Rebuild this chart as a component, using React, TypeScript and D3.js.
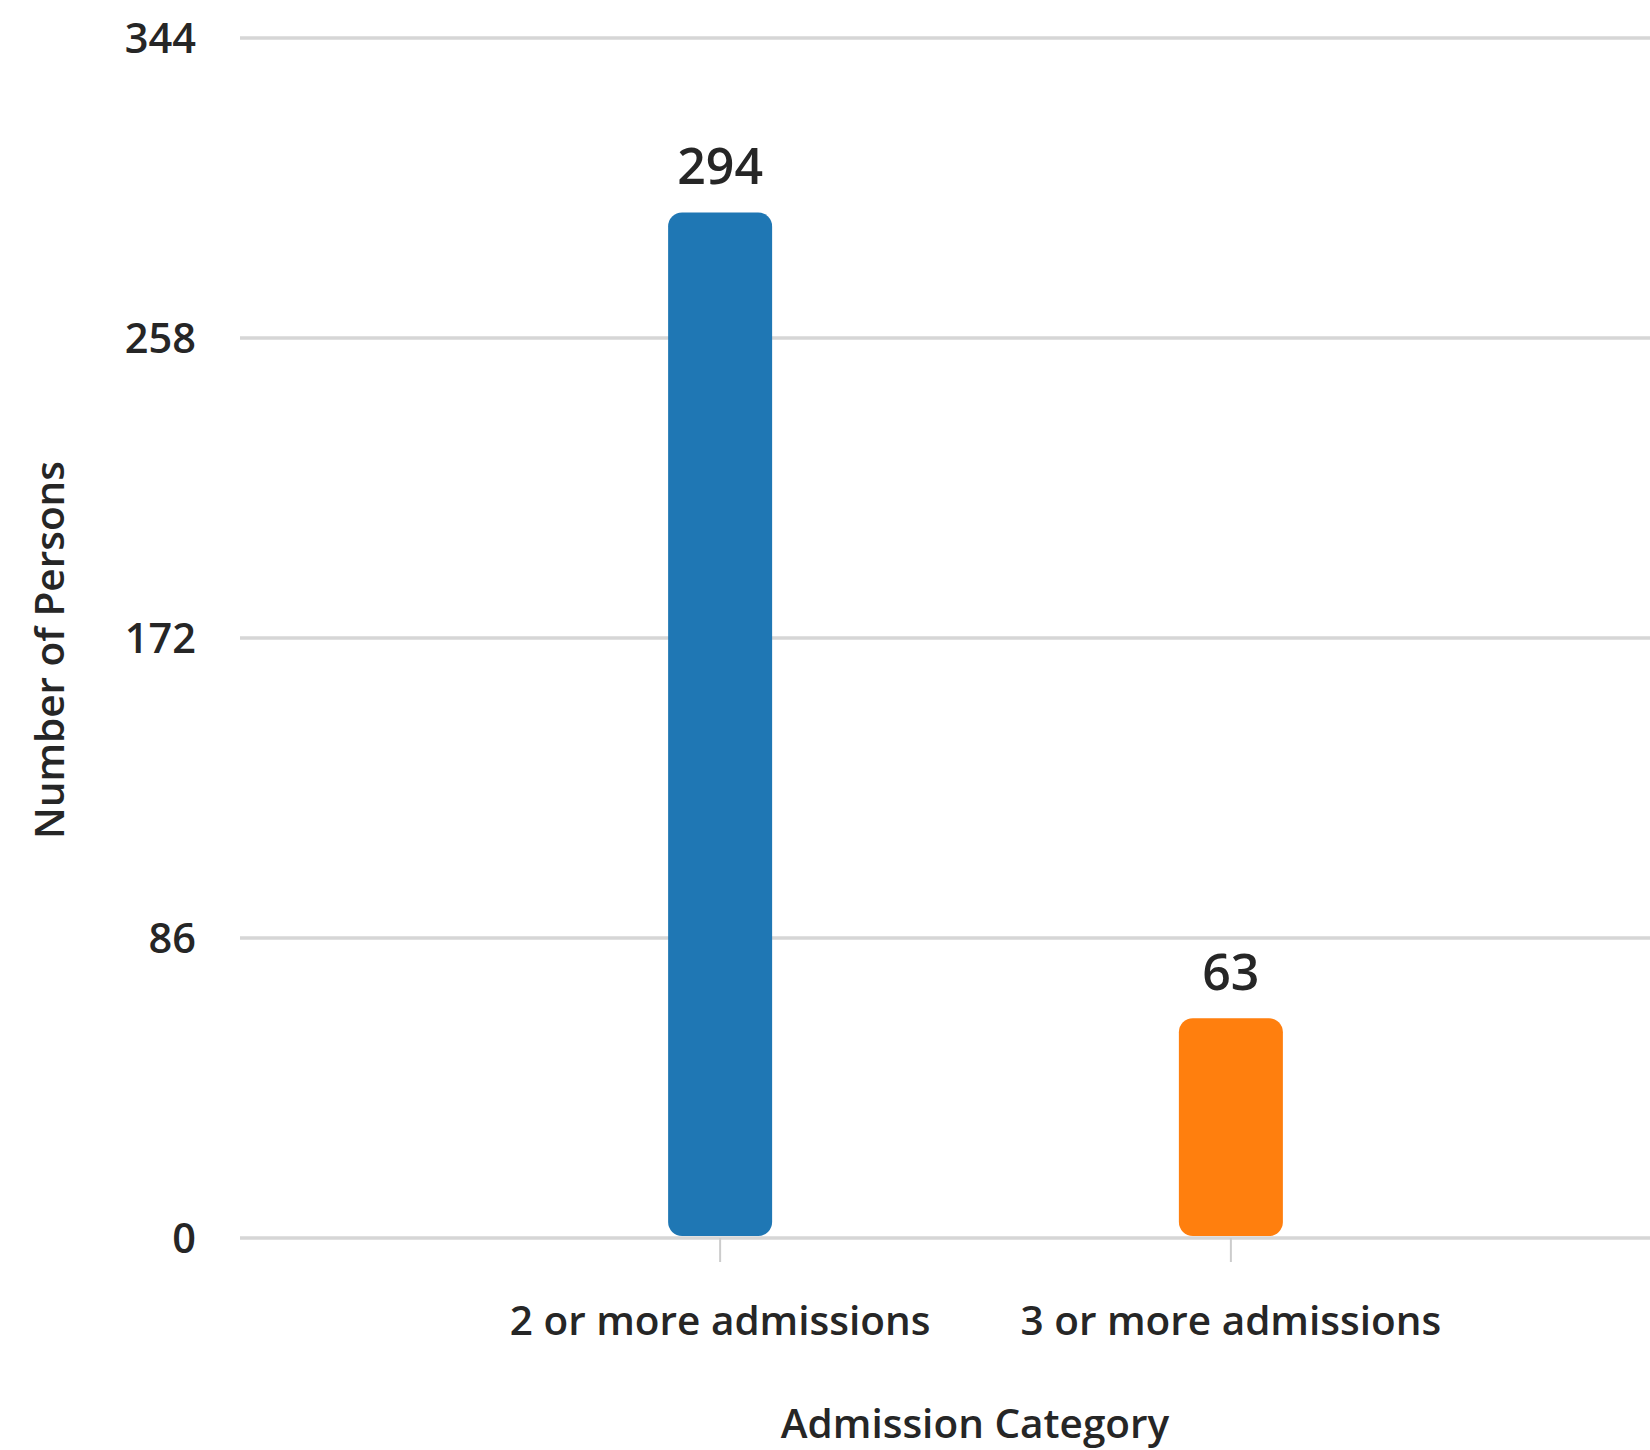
import { useEffect, useRef } from 'react'
import * as d3 from 'd3'

const categories = ['2 or more admissions', '3 or more admissions']
const persons = [294, 63]
const barColors = ['#1f77b4', '#ff7f0e']
const yTicks = [0, 86, 172, 258, 344]

const W = 1650
const H = 1450
const FONT = '"Open Sans", "Noto Sans", sans-serif'
const INK = '#262626'

export default function App() {
  const ref = useRef<SVGSVGElement>(null)

  useEffect(() => {
    const svg = d3.select(ref.current)
    svg.selectAll('*').remove()

    // plot spans past the right edge of the picture (cropped like the source)
    const x = d3.scalePoint<string>().domain(categories).range([240, 1711]).padding(0.94)
    const y = d3.scaleLinear().domain([0, 344]).range([1238, 38])
    const barW = 104

    const label = (sel, size) =>
      sel
        .attr('font-family', FONT)
        .attr('font-size', size)
        .attr('font-weight', 600)
        .attr('fill', INK)

    // gridlines
    svg
      .append('g')
      .selectAll('line')
      .data(yTicks)
      .join('line')
      .attr('x1', 240)
      .attr('x2', W)
      .attr('y1', (d) => y(d))
      .attr('y2', (d) => y(d))
      .attr('stroke', '#d6d6d6')
      .attr('stroke-width', 3.5)

    // y tick labels
    svg
      .append('g')
      .selectAll('text')
      .data(yTicks)
      .join('text')
      .attr('x', 196)
      .attr('y', (d) => y(d))
      .attr('dy', '0.35em')
      .attr('text-anchor', 'end')
      .call(label, 41.5)
      .text((d) => d)

    // x ticks
    svg
      .append('g')
      .selectAll('line')
      .data(categories)
      .join('line')
      .attr('x1', (d) => x(d)!)
      .attr('x2', (d) => x(d)!)
      .attr('y1', 1238)
      .attr('y2', 1262)
      .attr('stroke', '#cccccc')
      .attr('stroke-width', 2)

    // bars
    svg
      .append('g')
      .selectAll('rect')
      .data(persons)
      .join('rect')
      .attr('x', (_, i) => x(categories[i])! - barW / 2)
      .attr('width', barW)
      .attr('y', (d) => y(d))
      .attr('height', (d) => y(0) - y(d) - 2)
      .attr('rx', 14)
      .attr('fill', (_, i) => barColors[i])

    // value labels
    svg
      .append('g')
      .selectAll('text')
      .data(persons)
      .join('text')
      .attr('x', (_, i) => x(categories[i])!)
      .attr('y', (d) => y(d) - 28)
      .attr('text-anchor', 'middle')
      .call(label, 50)
      .text((d) => d)

    // category labels
    svg
      .append('g')
      .selectAll('text')
      .data(categories)
      .join('text')
      .attr('x', (d) => x(d)!)
      .attr('y', 1335)
      .attr('text-anchor', 'middle')
      .call(label, 40.5)
      .text((d) => d)

    // axis titles
    svg
      .append('text')
      .attr('x', 975)
      .attr('y', 1438)
      .attr('text-anchor', 'middle')
      .call(label, 40.5)
      .text('Admission Category')

    svg
      .append('text')
      .attr('transform', 'translate(64,650) rotate(-90)')
      .attr('text-anchor', 'middle')
      .call(label, 40.5)
      .text('Number of Persons')
  }, [])

  return (
    <svg
      ref={ref}
      width={W}
      height={H}
      style={{ position: 'absolute', left: 0, top: 0, background: '#fff' }}
    />
  )
}
